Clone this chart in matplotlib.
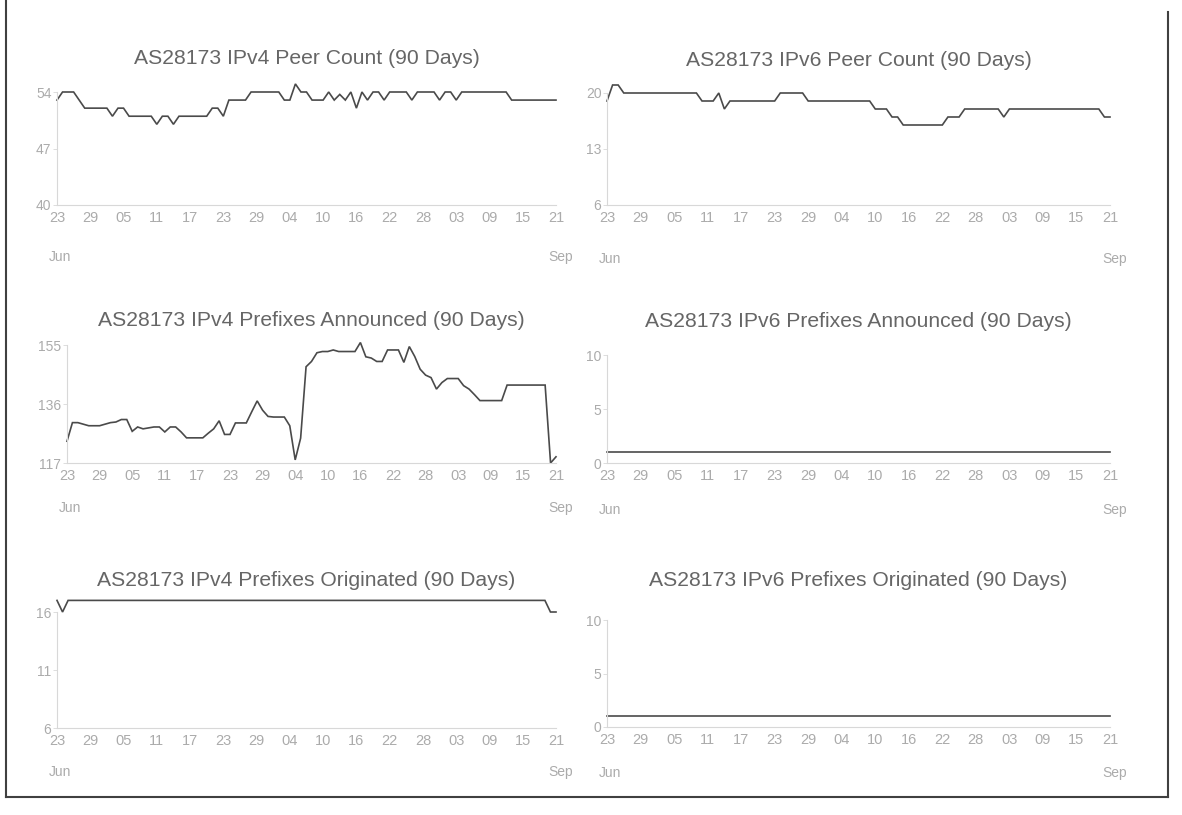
import numpy as np
import matplotlib
matplotlib.use("Agg")
import matplotlib.pyplot as plt
from matplotlib.lines import Line2D

plt.rcParams['font.family'] = ['Liberation Sans', 'DejaVu Sans']

W, H = 1182, 815

# ---------------- data ----------------
tick_labels = ["23", "29", "05", "11", "17", "23", "29", "04", "10", "16",
               "22", "28", "03", "09", "15", "21"]
tick_days = [0, 6, 12, 18, 24, 30, 36, 42, 48, 54, 60, 66, 72, 78, 84, 90]
month_start, month_end = "Jun", "Sep"

ipv4_peers = [53, 54, 54, 54, 53, 52, 52, 52, 52, 52,
              51, 52, 52, 51, 51, 51, 51, 51, 50, 51,
              51, 50, 51, 51, 51, 51, 51, 51, 52, 52,
              51, 53, 53, 53, 53, 54, 54, 54, 54, 54,
              54, 53, 53, 55, 54, 54, 53, 53, 53, 54,
              53, 53.7, 53, 54, 52, 54, 53, 54, 54, 53,
              54, 54, 54, 54, 53, 54, 54, 54, 54, 53,
              54, 54, 53, 54, 54, 54, 54, 54, 54, 54,
              54, 54, 53, 53, 53, 53, 53, 53, 53, 53, 53]

ipv6_peers = [19, 21, 21, 20, 20, 20, 20, 20, 20, 20,
              20, 20, 20, 20, 20, 20, 20, 19, 19, 19,
              20, 18, 19, 19, 19, 19, 19, 19, 19, 19,
              19, 20, 20, 20, 20, 20, 19, 19, 19, 19,
              19, 19, 19, 19, 19, 19, 19, 19, 18, 18,
              18, 17, 17, 16, 16, 16, 16, 16, 16, 16,
              16, 17, 17, 17, 18, 18, 18, 18, 18, 18,
              18, 17, 18, 18, 18, 18, 18, 18, 18, 18,
              18, 18, 18, 18, 18, 18, 18, 18, 18, 17, 17]

ipv4_announced = [124, 130, 130, 129.5, 129, 129, 129, 129.5, 130, 130.2,
                  131, 131, 127.2, 128.6, 128, 128.3, 128.6, 128.6, 127, 128.6,
                  128.6, 127, 125.1, 125.1, 125.1, 125.1, 126.6, 128, 130.6, 126.2,
                  126.2, 129.9, 129.9, 129.9, 133.5, 137, 134, 132, 131.8, 131.8,
                  131.8, 129, 118, 125, 148, 149.7, 152.5, 152.9, 152.9, 153.4,
                  152.9, 152.9, 152.9, 152.9, 155.8, 151.2, 150.8, 149.7, 149.7, 153.4,
                  153.4, 153.4, 149.4, 154.5, 151.3, 147.2, 145.3, 144.5, 140.8, 142.9,
                  144.2, 144.2, 144.2, 141.9, 140.8, 139, 137.1, 137.1, 137.1, 137.1,
                  137.1, 142.1, 142.1, 142.1, 142.1, 142.1, 142.1, 142.1, 142.1, 117, 119]

ipv6_announced = [1] * 91

ipv4_originated = [17, 16, 17] + [17] * 86 + [16, 16]

ipv6_originated = [1] * 91

titles = ["AS28173 IPv4 Peer Count (90 Days)",
          "AS28173 IPv6 Peer Count (90 Days)",
          "AS28173 IPv4 Prefixes Announced (90 Days)",
          "AS28173 IPv6 Prefixes Announced (90 Days)",
          "AS28173 IPv4 Prefixes Originated (90 Days)",
          "AS28173 IPv6 Prefixes Originated (90 Days)"]
yticks_all = [[40, 47, 54], [6, 13, 20], [117, 136, 155],
              [0, 5, 10], [6, 11, 16], [0, 5, 10]]
series_all = [ipv4_peers, ipv6_peers, ipv4_announced,
              ipv6_announced, ipv4_originated, ipv6_originated]

# ---------------- layout (pixel boxes: left, right, top, bottom) ----------------
boxes = [(57, 556, 92, 205), (607, 1110, 93, 205),
         (67, 556, 345, 463), (607, 1110, 355, 463),
         (57, 556, 612, 728), (607, 1110, 620, 727)]
title_y = [59, 60, 321, 322, 581, 581]
month_y = [257, 259, 508, 510, 772, 773]

fig = plt.figure(figsize=(W / 100, H / 100), dpi=100)
fig.patch.set_facecolor("white")

LINE_C = "#4a4a4a"
AX_C = "#d8d8d8"
TICK_C = "#ababab"
TITLE_C = "#666666"

for i, (box, series, yt, title) in enumerate(zip(boxes, series_all, yticks_all, titles)):
    l, r, t, b = box
    ax = fig.add_axes([l / W, 1 - b / H, (r - l) / W, (b - t) / H])
    x = np.arange(len(series))
    ax.plot(x, series, color=LINE_C, lw=1.2, clip_on=False, solid_joinstyle="miter")
    ax.set_xlim(0, 90)
    ax.set_ylim(yt[0], yt[-1])
    ax.set_yticks(yt)
    ax.set_yticklabels([str(v) for v in yt])
    ax.set_xticks(tick_days)
    ax.set_xticklabels(tick_labels)
    for s in ["top", "right"]:
        ax.spines[s].set_visible(False)
    for s in ["left", "bottom"]:
        ax.spines[s].set_color(AX_C)
        ax.spines[s].set_linewidth(0.8)
    ax.tick_params(axis="y", colors=AX_C, labelcolor=TICK_C, labelsize=10,
                   length=3, width=0.6, pad=1)
    ax.tick_params(axis="x", length=0, labelcolor=TICK_C, labelsize=10.5, pad=4)
    ax.set_facecolor("none")
    cx = (l + r) / 2
    fig.text(cx / W, 1 - title_y[i] / H, title, ha="center", va="center",
             fontsize=15.2, color=TITLE_C)
    fig.text((l - 8) / W, 1 - month_y[i] / H, month_start,
             ha="left", va="center", fontsize=10, color=TICK_C)
    fig.text((r + 5) / W, 1 - month_y[i] / H, month_end,
             ha="center", va="center", fontsize=10, color=TICK_C)

# frame around the page
FRAME_C = "#404040"
fig.add_artist(Line2D([6 / W, 6 / W], [1 - 0 / H, 1 - 797 / H], color=FRAME_C, lw=1.5))
fig.add_artist(Line2D([6 / W, 1168 / W], [1 - 797 / H, 1 - 797 / H], color=FRAME_C, lw=1.5))
fig.add_artist(Line2D([1168 / W, 1168 / W], [1 - 12 / H, 1 - 797 / H], color=FRAME_C, lw=1.5))

fig.savefig("out.png", dpi=100)
